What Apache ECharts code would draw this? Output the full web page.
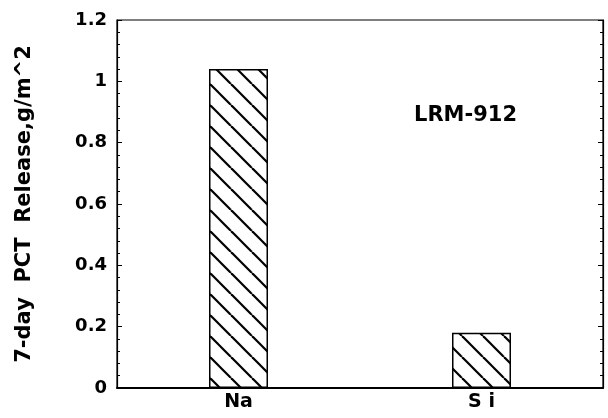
<!DOCTYPE html>
<html><head><meta charset="utf-8">
<script src="https://cdn.jsdelivr.net/npm/echarts@6/dist/echarts.min.js"></script>
<style>html,body{margin:0;padding:0;background:#fff}#c{width:608px;height:418px}</style>
</head><body><div id="c"></div>
<script>
var categories = ['Na', 'S i'];
var values = [1.04, 0.18];
var yTicks = [0, 0.2, 0.4, 0.6, 0.8, 1, 1.2];

var cv = document.createElement('canvas');
var s = 21;
cv.width = s; cv.height = s;
var g = cv.getContext('2d');
g.fillStyle = '#fff'; g.fillRect(0, 0, s, s);
g.strokeStyle = '#000'; g.lineWidth = 2.2;
[-s, 0, s].forEach(function (x0) {
  g.beginPath(); g.moveTo(x0, 0); g.lineTo(x0 + s, s); g.stroke();
});

var F = '"DejaVu Sans"';
var chart = echarts.init(document.getElementById('c'), null, {renderer: 'canvas'});
chart.setOption({
  animation: false,
  backgroundColor: '#fff',
  grid: {left: 117, right: 5, top: 20, bottom: 30, show: true, borderColor: '#000', borderWidth: 1.2, backgroundColor: 'transparent'},
  xAxis: {
    type: 'category', data: categories,
    axisLine: {lineStyle: {color: '#000', width: 2}},
    axisTick: {show: false},
    axisLabel: {color: '#000', fontFamily: F, fontWeight: 'bold', fontSize: 19, margin: 5}
  },
  yAxis: [{
    type: 'value', min: 0, max: 1.2, interval: 0.2,
    name: '7-day  PCT  Release,g/m^2', nameLocation: 'middle', nameGap: 82,
    nameTextStyle: {color: '#000', fontFamily: F, fontWeight: 'bold', fontSize: 21},
    axisLine: {show: true, lineStyle: {color: '#000', width: 1.2}},
    axisTick: {show: true, inside: true, length: 5, lineStyle: {color: '#000'}},
    minorTick: {show: true, splitNumber: 5, length: 3, lineStyle: {color: '#000'}},
    splitLine: {show: false},
    axisLabel: {color: '#000', fontFamily: F, fontWeight: 'bold', fontSize: 18, margin: 10,
      formatter: function (v) { var r = Math.round(v * 10) / 10; return yTicks.indexOf(r) >= 0 ? String(r) : ''; }}
  }, {
    type: 'value', min: 0, max: 1.2, interval: 0.2, position: 'right',
    axisLine: {show: true, lineStyle: {color: '#000', width: 1.2}},
    axisTick: {show: true, inside: true, length: 5, lineStyle: {color: '#000'}},
    minorTick: {show: true, splitNumber: 5, length: 3, lineStyle: {color: '#000'}},
    splitLine: {show: false},
    axisLabel: {show: false}
  }],
  series: [{
    type: 'bar', data: values, barWidth: 59,
    itemStyle: {color: {image: cv, repeat: 'repeat'}, borderColor: '#000', borderWidth: 1.5}
  }],
  graphic: [{
    type: 'text', left: 414, top: 105,
    style: {text: 'LRM-912', fill: '#000', font: 'bold 21px "DejaVu Sans"'}
  }]
});
</script></body></html>
